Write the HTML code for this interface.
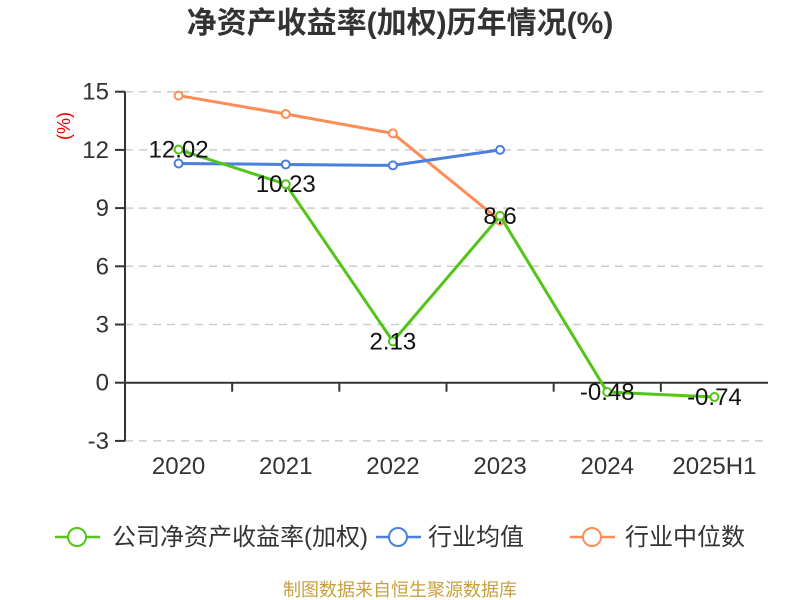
<!DOCTYPE html>
<html><head><meta charset="utf-8"><style>
body{margin:0;background:#fff;}
svg{display:block;font-family:"Liberation Sans","Noto Sans CJK SC",sans-serif;}
</style></head><body>
<svg id="c" width="800" height="600">
<text x="400" y="33" text-anchor="middle" font-size="30" font-weight="bold" fill="#333">净资产收益率(加权)历年情况(%)</text>
<text transform="translate(70,126) rotate(-90)" text-anchor="middle" font-size="18" fill="#e00">(%)</text>
<g id="grid"></g><g id="series"></g>
<g>
 <g><line x1="55" y1="537" x2="100" y2="537" stroke="#52c41a" stroke-width="2.5"/><circle cx="77" cy="537" r="9" fill="#fff" stroke="#52c41a" stroke-width="2"/><text x="112" y="545" font-size="24" fill="#333">公司净资产收益率(加权)</text></g>
 <g><line x1="376" y1="537" x2="421" y2="537" stroke="#4a7fe0" stroke-width="2.5"/><circle cx="398" cy="537" r="9" fill="#fff" stroke="#4a7fe0" stroke-width="2"/><text x="428" y="545" font-size="24" fill="#333">行业均值</text></g>
 <g><line x1="570" y1="537" x2="615" y2="537" stroke="#ff8c55" stroke-width="2.5"/><circle cx="592" cy="537" r="9" fill="#fff" stroke="#ff8c55" stroke-width="2"/><text x="625" y="545" font-size="24" fill="#333">行业中位数</text></g>
</g>
<text x="400" y="596" text-anchor="middle" font-size="18" fill="#c9a040">制图数据来自恒生聚源数据库</text>
</svg>
<script>
const categories=["2020","2021","2022","2023","2024","2025H1"];
const company=[12.02,10.23,2.13,8.6,-0.48,-0.74];
const industryAvg=[11.3,11.25,11.2,12.0,null,null];
const industryMedian=[14.8,13.85,12.85,8.35,null,null];
const yTicks=[-3,0,3,6,9,12,15];
const NS="http://www.w3.org/2000/svg";
const L=125,R=768,y0=382.7,pu=58.2/3;
const bw=(R-L)/categories.length;
const xs=i=>L+bw*(i+0.5), ys=v=>y0-v*pu;
function mk(tag,a,p){const e=document.createElementNS(NS,tag);for(const k in a)e.setAttribute(k,a[k]);p.appendChild(e);return e;}
const g=document.getElementById('grid'),s=document.getElementById('series');
yTicks.forEach(t=>{const y=ys(t);
 if(t!==0){const l=mk('line',{x1:L,x2:R,y1:y,y2:y,stroke:'#ccc','stroke-dasharray':'8,6','stroke-width':1.5},g);
 
 }
 mk('line',{x1:L-10,x2:L,y1:y,y2:y,stroke:'#333','stroke-width':2},g);
 const tx=mk('text',{x:L-16,y:y+8,'text-anchor':'end','font-size':24,fill:'#333'},g);tx.textContent=t;
 
 
});
const ya=mk('line',{x1:L,x2:L,y1:ys(15),y2:ys(-3),stroke:'#333','stroke-width':2},g);


const xa=mk('line',{x1:L,x2:R,y1:y0,y2:y0,stroke:'#333','stroke-width':2},g);


categories.forEach((c,i)=>{
 if(i>0)mk('line',{x1:L+bw*i,x2:L+bw*i,y1:y0,y2:y0+9,stroke:'#333','stroke-width':2},g);
 const tx=mk('text',{x:xs(i),y:474,'text-anchor':'middle','font-size':24,fill:'#333'},g);tx.textContent=c;
 
 
});
function series(data,color,name,labels){
 const pts=data.map((v,i)=>v==null?null:[xs(i),ys(v)]).filter(p=>p);
 const pl=mk('polyline',{points:pts.map(p=>p.join(',')).join(' '),fill:'none',stroke:color,'stroke-width':3},s);
 
 
 data.forEach((v,i)=>{if(v==null)return;
  const c=mk('circle',{cx:xs(i),cy:ys(v),r:4,fill:'#fff',stroke:color,'stroke-width':2},s);
  
  
  if(labels){const t=mk('text',{x:xs(i),y:ys(v)+8,'text-anchor':'middle','font-size':24,fill:'#111'},s);t.textContent=v;
   
   }
 });
}
series(industryMedian,'#ff8c55','industry-median',false);
series(industryAvg,'#4a7fe0','industry-avg',false);
series(company,'#52c41a','company-roe',true);
</script>
</body></html>
